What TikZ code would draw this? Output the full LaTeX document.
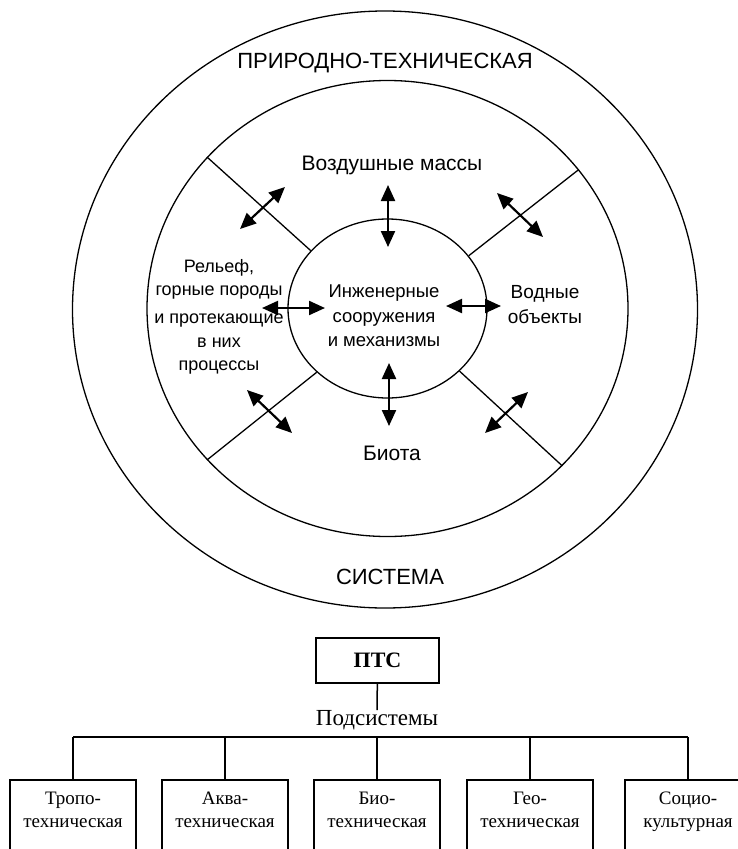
\documentclass[tikz,border=0pt]{standalone}
\usepackage{fontspec}
\setmainfont{Liberation Serif}
\newfontfamily\arialfont{Liberation Sans}
\usepackage{tikz}
\usetikzlibrary{shapes, arrows, arrows.meta}
\usetikzlibrary{positioning}

\begin{document}
\begin{tikzpicture}[x=1pt, y=-1pt,
  ring/.style={draw, ellipse, line width=1.3pt, inner sep=0pt},
  spoke/.style={line width=1.3pt},
  duo/.style={line width=2.2pt, {Triangle[length=16pt,width=14pt]}-{Triangle[length=16pt,width=14pt]}},
  lbl/.style={inner sep=0pt, align=center},
  tree/.style={line width=1.5pt},
  subbox/.style={draw, line width=1.5pt, anchor=north, minimum width=126pt, minimum height=90pt},
  subtxt/.style={inner sep=0pt, align=center, font=\fontsize{19}{23}\selectfont}]
\path[use as bounding box] (0,0) rectangle (738,849);

% rings
\node[ring, minimum width=625pt, minimum height=597pt] (outer) at (385,309.5) {};
\node[ring, minimum width=481pt, minimum height=456pt] (middle) at (387.5,308.5) {};
\node[ring, minimum width=199pt, minimum height=179pt] (inner) at (387.5,308.5) {};
\draw[spoke] (inner.143) -- (middle.140);
\draw[spoke] (inner.33) -- (middle.36);
\draw[spoke] (inner.222) -- (middle.220);
\draw[spoke] (inner.319) -- (middle.318);

% labels
\node[lbl, anchor=base, font=\arialfont\fontsize{22}{26}\selectfont] (title) at (385,68) {ПРИРОДНО-ТЕХНИЧЕСКАЯ};
\node[lbl, anchor=base, font=\arialfont\fontsize{22}{26}\selectfont] (sys) at (390,584) {СИСТЕМА};
\node[lbl, anchor=base, font=\arialfont\fontsize{21}{25}\selectfont] (air) at (392,170) {Воздушные массы};
\node[lbl, anchor=base, font=\arialfont\fontsize{21}{25}\selectfont] (biota) at (392,460) {Биота};
\node[lbl, anchor=north, font=\arialfont\fontsize{18.5}{24.5}\selectfont] (eng) at (384,285) {Инженерные\\сооружения\\и механизмы};
\node[lbl, anchor=north, font=\arialfont\fontsize{19}{25}\selectfont] (water) at (545,285) {Водные\\объекты};
\node[lbl, anchor=north, font=\arialfont\fontsize{18}{23.5}\selectfont] (relief) at (219,259) {Рельеф,\\горные породы\\[4.5pt]и протекающие\\в них\\процессы};

% arrows
\coordinate (n1) at (388,185); \coordinate (n2) at (388,247);
\coordinate (s1) at (389,363); \coordinate (s2) at (389,426);
\coordinate (w1) at (262,308); \coordinate (w2) at (325,308);
\coordinate (e1) at (446,306); \coordinate (e2) at (501,306);
\coordinate (nw1) at (240,229); \coordinate (nw2) at (285,187);
\coordinate (ne1) at (497,193); \coordinate (ne2) at (543,237);
\coordinate (sw1) at (247,390); \coordinate (sw2) at (292,433);
\coordinate (se1) at (528,392); \coordinate (se2) at (485,433);
\foreach \d in {n,s,w,e,nw,ne,sw,se}
  \draw[duo] (\d1) -- (\d2);

% subsystems
\node[draw, line width=1.5pt, minimum width=123pt, minimum height=45pt, font=\bfseries\fontsize{22}{26}\selectfont] (ptc) at (377.5,660.5) {ПТС};
\node[lbl, anchor=north, font=\fontsize{23}{27}\selectfont] (subs) at (377,710) {Подсистемы};
\draw[tree] (ptc) -- (subs);
\coordinate (barL) at (73,737);
\coordinate (barR) at (688,737);
\draw[tree] (barL) -- (barR);
\foreach \nm/\px/\txt in {tropo/73/{Тропо-\\техническая}, akva/225/{Аква-\\техническая},
    bio/377/{Био-\\техническая}, geo/530/{Гео-\\техническая}, socio/688/{Социо-\\культурная}} {
  \node[subbox] (\nm) at (\px,779) {};
  \node[subtxt, below=13pt of \nm.north] (\nm txt) {\txt};
  \draw[tree] (\nm.north) -- (\nm.north |- barL);
}
\end{tikzpicture}
\end{document}
